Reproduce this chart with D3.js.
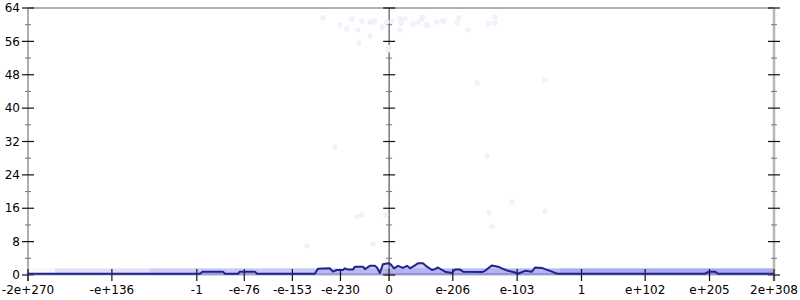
<!DOCTYPE html>
<html><head><meta charset="utf-8">
<script src="https://cdn.jsdelivr.net/npm/d3@7"></script>
<style>body{margin:0;background:#fff}svg{display:block}text{font-family:"DejaVu Sans",sans-serif;font-size:12px;fill:#000}</style>
</head><body><svg id="c" width="800" height="300"></svg>
<script>
// Positions on x are "binary exponent positions" (float64 bit pattern / 2^52, signed)
const xTickValues = [-2e270, -1e136, -1, -1e-76, -1e-153, -1e-230, 0, 1e-206, 1e-103, 1, 1e102, 1e205, 1.7976931348623157e308];
const xTickLabels = ["-2e+270", "-e+136", "-1", "-e-76", "-e-153", "-e-230", "0", "e-206", "e-103", "1", "e+102", "e+205", "2e+308"];
const yTickValues = [0, 8, 16, 24, 32, 40, 48, 56, 64];
const yMinorTicks = [4, 12, 20, 28, 36, 44, 52, 60];

// histogram line: position, count
const linePos = [-1922,-1023,-1007,-991,-884,-874,-804,-794,-714,-703,-395,-379,-315,-299,-278,-246,-235,-219,-193,-182,-139,-129,-102,-76,-65,-49,-33,-6,4,15,26,47,73,95,111,137,153,180,201,228,244,260,281,297,334,350,377,393,494,510,547,579,600,632,669,685,723,760,776,813,829,866,882,898,1680,1701,1733,1749,2047];
const lineVal = [0.3,0.3,0.3,0.8,0.8,0.3,0.3,0.8,0.8,0.3,0.3,1.5,1.6,0.8,1.2,1.2,1.6,1.3,1.3,2.0,2.0,1.4,2.2,2.2,1.8,0.5,2.6,2.8,2.7,2.2,1.6,2.2,1.7,2.2,1.6,2.3,2.8,2.8,2.0,1.2,1.4,1.8,1.2,0.8,0.5,1.3,1.3,0.8,0.7,1.0,2.3,2.0,1.6,1.0,0.6,0.3,1.0,0.8,1.8,1.7,1.4,0.8,0.5,0.3,0.3,0.8,0.8,0.3,0.3];

// faint sample points
const ptPos = [-352,-262,-225,-198,-166,-145,-102,-92,-76,-38,-12,15,57,63,57,84,127,153,174,180,196,206,254,286,291,361,371,419,467,531,563,563,-102,-161,-1,-6,-437,-171,-145,-17,-86,653,531,547,829,829,520,-288];
const ptVal = [61.6,59.9,59.0,61.4,58.7,60.9,60.6,60.6,60.9,59.4,60.6,60.9,61.4,60.4,58.7,61.4,60.2,60.6,61.4,61.8,59.9,59.9,60.6,60.9,60.9,60.4,61.6,58.7,46.0,60.2,60.4,61.8,57.3,55.6,54.6,53.9,7.0,13.9,14.4,14.4,7.4,17.5,14.9,11.7,15.3,46.7,28.5,30.7];

// dense low band of samples
const bandFrom = [-1922,-1777,-1272,-1023,-22,908];
const bandTo = [-1777,-1272,-1023,-22,908,2047];
const bandDensity = [0.05,0.2,0.32,0.35,0.45,0.55];
const bandTop = 1.6;

function ord(v){
  if (v < 0) return -ord(-v);
  const dv = new DataView(new ArrayBuffer(8));
  dv.setFloat64(0, v);
  return (dv.getUint32(0) * 4294967296 + dv.getUint32(4)) / 4503599627370496;
}

const svg = d3.select("#c");
const x = d3.scaleLinear().domain([ord(-2e270), ord(1.7976931348623157e308)]).range([28, 774]);
const y = d3.scaleLinear().domain([0, 64]).range([275, 8]);

// band
svg.append("g").selectAll("rect").data(bandFrom).join("rect")
  .attr("x", (d) => x(d)).attr("width", (d,i) => x(bandTo[i]) - x(d))
  .attr("y", y(bandTop)).attr("height", y(0) - y(bandTop))
  .attr("fill", "#4a4ae6").attr("fill-opacity", (d,i) => bandDensity[i] * 0.85);
svg.append("g").selectAll("rect").data(bandFrom).join("rect")
  .attr("x", (d) => x(d)).attr("width", (d,i) => x(bandTo[i]) - x(d))
  .attr("y", y(0.4)).attr("height", y(0) - y(0.4))
  .attr("fill", "#2424d8").attr("fill-opacity", (d,i) => Math.min(1, bandDensity[i] * 2));

const lineData = linePos.map((p,i) => [p, lineVal[i]]);
svg.append("path").datum(lineData)
  .attr("d", d3.area().x(d => x(d[0])).y0(y(0)).y1(d => y(d[1])))
  .attr("fill", "#b0b0f0").attr("fill-opacity", 0.6);

// frame
svg.append("line").attr("x1", x.range()[0]).attr("x2", x.range()[1]).attr("y1", y(64)).attr("y2", y(64)).attr("stroke", "#b0b0b0").attr("stroke-width", 2);

function yAxis(xp, col, w){
  const g = svg.append("g");
  g.append("line").attr("x1", xp).attr("x2", xp).attr("y1", y(64)).attr("y2", y(0) + 6).attr("stroke", col).attr("stroke-width", w);
  g.selectAll(".mj").data(yTickValues).join("line").attr("x1", xp - 6).attr("x2", xp + 6)
    .attr("y1", d => y(d)).attr("y2", d => y(d)).attr("stroke", "#111").attr("stroke-width", 1.2);
  g.selectAll(".mn").data(yMinorTicks).join("line").attr("x1", xp - 3).attr("x2", xp + 3)
    .attr("y1", d => y(d)).attr("y2", d => y(d)).attr("stroke", "#777").attr("stroke-width", 1);
  return g;
}
const gl = yAxis(x.range()[0], "#b0b0b0", 2);
gl.selectAll("text").data(yTickValues).join("text").attr("x", 20).attr("y", d => y(d)).attr("dy", "0.35em")
  .attr("text-anchor", "end").text(d => d);
yAxis(x.range()[1], "#b8b8b8", 2.5);

// x axis
svg.append("line").attr("x1", x.range()[0]).attr("x2", x.range()[1]).attr("y1", y(0)).attr("y2", y(0)).attr("stroke", "#b0b0b0").attr("stroke-width", 1);
const gx = svg.append("g");
gx.selectAll("line").data(xTickValues).join("line").attr("x1", d => x(ord(d))).attr("x2", d => x(ord(d)))
  .attr("y1", y(0) - 6).attr("y2", y(0) + 6).attr("stroke", "#111").attr("stroke-width", 1.2);
gx.selectAll("text").data(xTickValues).join("text").attr("x", d => x(ord(d))).attr("y", 294)
  .attr("text-anchor", "middle").text((d,i) => xTickLabels[i]);

// centre axis
yAxis(x(0), "#555", 1.2);

// line
svg.append("path").datum(lineData)
  .attr("d", d3.line().x(d => x(d[0])).y(d => y(d[1])))
  .attr("fill", "none").attr("stroke", "#22228a").attr("stroke-width", 2).attr("stroke-linejoin", "round");

// faint points
svg.append("g").selectAll("circle").data(ptPos).join("circle")
  .attr("cx", d => x(d)).attr("cy", (d,i) => y(ptVal[i])).attr("r", 2.3)
  .attr("fill", "#f3f3fd").attr("stroke", "#e8e8fa").attr("stroke-width", 0.6);
</script></body></html>
